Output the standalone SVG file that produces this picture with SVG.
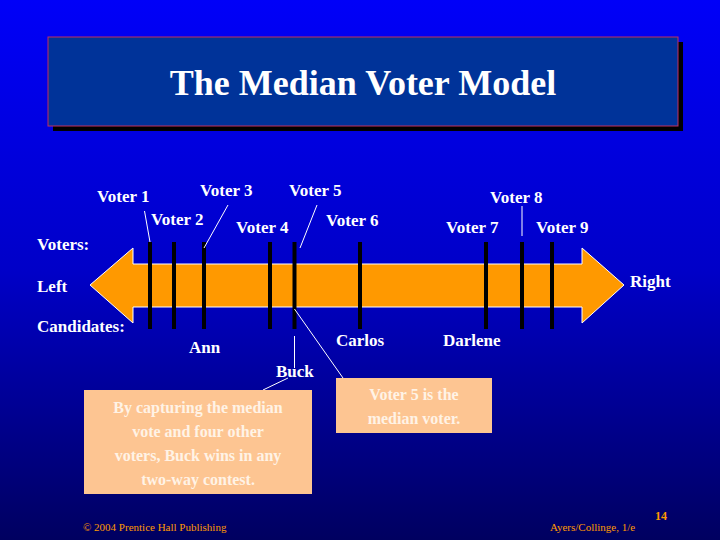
<svg xmlns="http://www.w3.org/2000/svg" width="720" height="540" viewBox="0 0 720 540">
<defs>
<linearGradient id="bg" x1="0" y1="0" x2="0" y2="1">
<stop offset="0" stop-color="#0000f8"/><stop offset="0.5" stop-color="#0000c8"/><stop offset="1" stop-color="#000060"/>
</linearGradient>
<style>
text{font-family:"Liberation Serif",serif;font-weight:bold;fill:#fff}
.l{font-size:17px}
.tk{stroke:#000;stroke-width:4}
.ld{stroke:#fff;stroke-width:1;fill:none}
.bx{fill:#fdc592}
.bt{font-size:16px;fill:#fff3e6;text-anchor:middle}
</style>
</defs>
<rect width="720" height="540" fill="url(#bg)"/>
<g id="title">
<rect x="53" y="42" width="630" height="89" fill="#000"/>
<rect x="48" y="37" width="630" height="89" fill="#003399" stroke="#c03060" stroke-width="1"/>
<text x="363" y="95" font-size="36" text-anchor="middle" style="text-shadow:none">The Median Voter Model</text>
</g>
<g id="axis">
<polygon points="90,285 133,248 133,264 582,264 582,248 624,285 582,323 582,307 133,307 133,323" fill="#ff9900" stroke="#fff" stroke-width="1"/>
<text x="37" y="292" class="l">Left</text>
<text x="630" y="287" class="l">Right</text>
<text x="37" y="250" class="l">Voters:</text>
<text x="37" y="332" class="l">Candidates:</text>
</g>
<g id="ticks">
<line class="tk" x1="150" y1="242" x2="150" y2="329"/>
<line class="tk" x1="174" y1="242" x2="174" y2="329"/>
<line class="tk" x1="204" y1="242" x2="204" y2="329"/>
<line class="tk" x1="270" y1="242" x2="270" y2="329"/>
<line class="tk" x1="294.5" y1="242" x2="294.5" y2="329"/>
<line class="tk" x1="360" y1="242" x2="360" y2="329"/>
<line class="tk" x1="486" y1="242" x2="486" y2="329"/>
<line class="tk" x1="522" y1="242" x2="522" y2="329"/>
<line class="tk" x1="552" y1="242" x2="552" y2="329"/>
</g>
<g id="connectors">
<line class="ld" x1="144.5" y1="211" x2="150" y2="242"/>
<line class="ld" x1="228" y1="205" x2="204" y2="248"/>
<line class="ld" x1="317" y1="205" x2="300" y2="248"/>
<line class="ld" x1="522" y1="206" x2="522" y2="236"/>
<line class="ld" x1="294.5" y1="309" x2="343" y2="378"/>
<line class="ld" x1="294.5" y1="336" x2="294.5" y2="368"/>
<line class="ld" x1="263" y1="390" x2="288" y2="378"/>
</g>
<g id="voters">
<text x="97" y="202" class="l">Voter 1</text>
<text x="200" y="196" class="l">Voter 3</text>
<text x="289" y="196" class="l">Voter 5</text>
<text x="151" y="225" class="l">Voter 2</text>
<text x="236" y="233" class="l">Voter 4</text>
<text x="326" y="226" class="l">Voter 6</text>
<text x="490" y="203" class="l">Voter 8</text>
<text x="446" y="233" class="l">Voter 7</text>
<text x="536" y="233" class="l">Voter 9</text>
</g>
<g id="candidates">
<text x="189" y="353" class="l">Ann</text>
<text x="276" y="377" class="l">Buck</text>
<text x="336" y="346" class="l">Carlos</text>
<text x="443" y="346" class="l">Darlene</text>
</g>
<g id="note-buck">
<rect class="bx" x="84" y="390" width="228" height="104"/>
<text class="bt" x="198" y="413">By capturing the median</text>
<text class="bt" x="198" y="437">vote and four other</text>
<text class="bt" x="198" y="461">voters, Buck wins in any</text>
<text class="bt" x="198" y="485">two-way contest.</text>
</g>
<g id="note-median">
<rect class="bx" x="336" y="378" width="156" height="55"/>
<text class="bt" x="414" y="400">Voter 5 is the</text>
<text class="bt" x="414" y="424">median voter.</text>
</g>
<g id="footer">
<text x="83" y="531" font-size="11" style="font-weight:normal;fill:#ff9900">© 2004 Prentice Hall Publishing</text>
<text x="550" y="531" font-size="11" style="font-weight:normal;fill:#ff9900">Ayers/Collinge, 1/e</text>
<text x="655" y="520" font-size="12" style="fill:#ff9900">14</text>
</g>
</svg>
